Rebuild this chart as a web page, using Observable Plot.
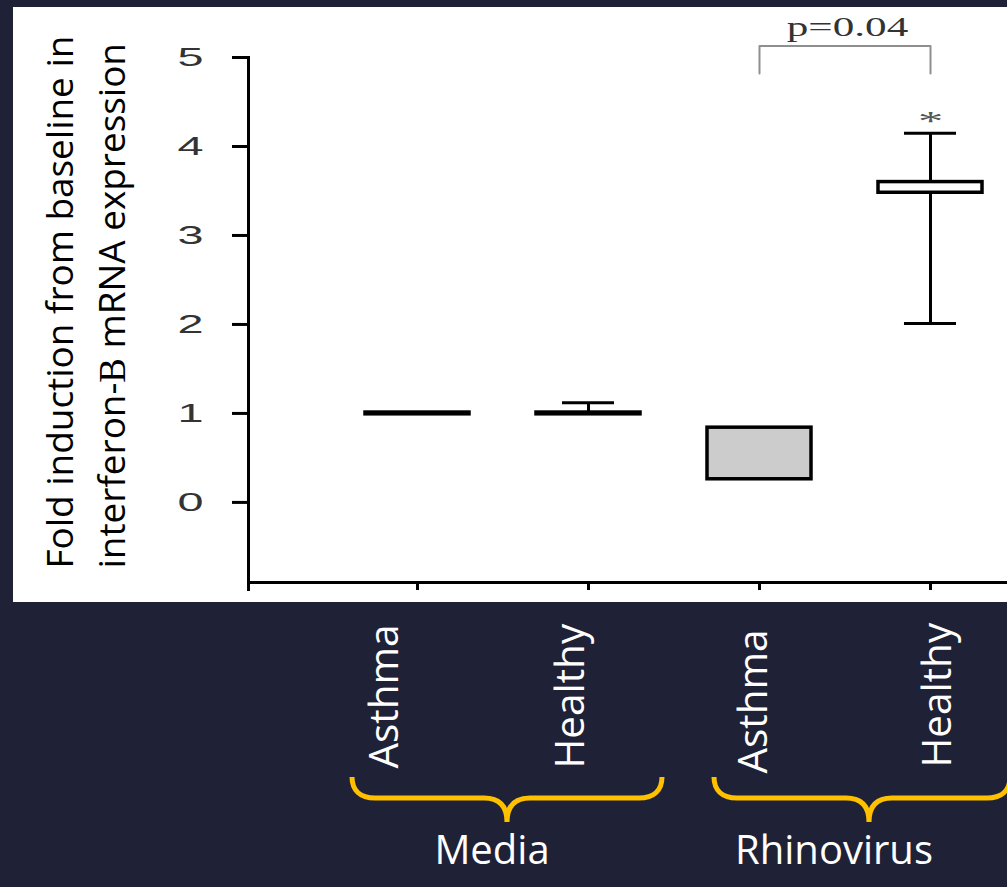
<!DOCTYPE html>
<html>
<head>
<meta charset="utf-8">
<script src="https://cdn.jsdelivr.net/npm/d3@7"></script>
<script src="https://cdn.jsdelivr.net/npm/@observablehq/plot@0.6"></script>
<style>
html, body { margin: 0; padding: 0; background: #1f2236; }
#wrap { position: relative; width: 1007px; height: 887px; overflow: hidden; background: #1f2236; }
#panel { position: absolute; left: 13px; top: 7px; width: 994px; height: 595px; background: #ffffff; }
#chart { position: absolute; left: 0; top: 0; }
</style>
</head>
<body>
<div id="wrap"><div id="panel"></div><div id="chart"></div></div>
<script>
// ---------------- data ----------------
const groups = ["Media", "Rhinovirus"];
const conditions = ["Asthma", "Healthy", "Asthma", "Healthy"];
const groupOf = ["Media", "Media", "Rhinovirus", "Rhinovirus"];
const q1 = [0.99, 0.99, 0.26, 3.48];
const q3 = [1.01, 1.01, 0.84, 3.60];
const whiskerLow = [null, null, null, 2.01];
const whiskerHigh = [null, 1.12, null, 4.15];
const significant = [false, false, false, true];
const yTicks = [0, 1, 2, 3, 4, 5];
const yDomain = [-0.9, 5];
const yTitle = ["Fold induction from baseline in", "interferon-B mRNA expression"];
const pLabel = "p=0.04";
const pBracket = [4.82, 5.13];
const sigMark = "*";

// ---------------- table ----------------
const keys = conditions.map((c, i) => `${groupOf[i]} ${c}`);
const boxes = keys.map((k, i) => ({
  key: k, condition: conditions[i], group: groupOf[i],
  q1: q1[i], q3: q3[i], lo: whiskerLow[i], hi: whiskerHigh[i], sig: significant[i]
}));
const groupData = groups.map(g => ({group: g, first: keys[groupOf.indexOf(g)]}));

// ---------------- layout ----------------
const W = 1007, H = 887;
const mLeft = 248, mTop = 57, mBottom = 305, mRight = 0;
const step = 171, padInner = 0.392, padOuter = 0.196;
const xStart = 331.5;
const xRange = [xStart, xStart + step * keys.length];
const bandW = step * (1 - padInner);
const capInset = (bandW - 52) / 2;

function fitSize(text, family, target) {
  const ctx = document.createElement("canvas").getContext("2d");
  ctx.font = `100px ${family}`;
  return 100 * target / ctx.measureText(text).width;
}
const sans = "'Open Sans'";
const serif = "'Liberation Serif', 'Times New Roman', serif";
const fsTitle = fitSize(yTitle[0], sans, 533);
const fsCat = fitSize("Asthma", sans, 144);
const fsGroup = fitSize("Rhinovirus", sans, 198);
const labelNudge = [[-20, 186], [-5, 186], [7, 191], [20, 185]];
const boxFill = k => k === "Rhinovirus Asthma" ? "#cccccc" : "#ffffff";

const marks = [
  Plot.ruleY([yDomain[0]], {stroke: "black", strokeWidth: 3}),
  Plot.frame({anchor: "left", stroke: "black", strokeWidth: 3, insetBottom: -7}),
  Plot.axisY({ticks: yTicks, tickFormat: d3.format("d"), tickSize: 16, tickPadding: 29, label: null,
    strokeWidth: 3, stroke: "black", fill: "#333", fontSize: 26, fontFamily: "'Liberation Sans', Arial"}),
  Plot.axisX({tickSize: 8, tickFormat: () => "", label: null, strokeWidth: 3, stroke: "black"}),
  // whiskers
  Plot.ruleX(boxes.filter(d => d.hi != null), {x: "key", y1: "q3", y2: "hi", stroke: "black", strokeWidth: 3}),
  Plot.ruleX(boxes.filter(d => d.lo != null), {x: "key", y1: "q1", y2: "lo", stroke: "black", strokeWidth: 3}),
  Plot.tickY(boxes.filter(d => d.hi != null), {x: "key", y: "hi", stroke: "black", strokeWidth: 3, insetLeft: capInset, insetRight: capInset}),
  Plot.tickY(boxes.filter(d => d.lo != null), {x: "key", y: "lo", stroke: "black", strokeWidth: 3, insetLeft: capInset, insetRight: capInset}),
  // boxes
  Plot.barY(boxes, {x: "key", y1: "q1", y2: "q3", fill: d => boxFill(d.key), stroke: "black", strokeWidth: 3.5}),
  // significance bracket
  Plot.line([
    {x: keys[2], y: pBracket[0]}, {x: keys[2], y: pBracket[1]},
    {x: keys[3], y: pBracket[1]}, {x: keys[3], y: pBracket[0]}
  ], {x: "x", y: "y", stroke: "#8f8f8f", strokeWidth: 2}),
  Plot.text([{x: keys[2], y: pBracket[1], t: pLabel}], {x: "x", y: "y", text: "t", dx: step / 2 + 2.5, dy: -10,
    lineAnchor: "bottom", fontFamily: serif, fontSize: 27, fill: "#333"}),
  Plot.text(boxes.filter(d => d.sig), {x: "key", y: "hi", text: () => sigMark, dy: -12,
    fontFamily: serif, fontSize: 28, fill: "#555"}),
  // y title
  Plot.text([yTitle.join("\n")], {frameAnchor: "bottom-left", rotate: -90, textAnchor: "start", lineAnchor: "bottom",
    lineHeight: 52 / fsTitle, dx: 124 - mLeft, dy: 568 - (H - mBottom), fontSize: fsTitle, fontFamily: sans, fill: "black"}),
  // category labels
  ...boxes.map((b, i) => Plot.text([b], {x: "key", text: "condition", frameAnchor: "bottom",
    dx: labelNudge[i][0], dy: labelNudge[i][1], rotate: -90, textAnchor: "start",
    fill: "white", fontSize: fsCat, fontFamily: sans})),
  // group labels
  Plot.text(groupData, {x: "first", text: "group", frameAnchor: "bottom", dx: step / 2 - 11, dy: 281,
    fill: "white", fontSize: fsGroup, fontFamily: sans})
];

const chart = Plot.plot({
  width: W, height: H,
  marginLeft: mLeft, marginTop: mTop, marginBottom: mBottom, marginRight: mRight,
  style: {background: "transparent", overflow: "visible", fontFamily: sans},
  x: {type: "band", domain: keys, range: xRange, paddingInner: padInner, paddingOuter: padOuter},
  y: {domain: yDomain},
  marks
});
document.getElementById("chart").appendChild(chart);

// ---------------- post-processing ----------------
const svg = d3.select(chart);
function stretch(sel, sx) {
  sel.each(function () {
    let t = this.getAttribute("transform");
    if (!t) {
      const x = +this.getAttribute("x") || 0, y = +this.getAttribute("y") || 0;
      this.removeAttribute("x"); this.removeAttribute("y");
      t = `translate(${x},${y})`;
    }
    this.setAttribute("transform", `${t} scale(${sx},1)`);
  });
}
const byText = s => svg.selectAll("text").filter(function () { return this.textContent === s; });
svg.selectAll('g[aria-label="y-axis tick label"] text')
  .style("font-size", "26px").style("font-family", "'Liberation Sans', Arial").style("fill", "#333");
svg.selectAll('g[aria-label="y-axis tick"]').attr("stroke-width", 3).attr("stroke", "black");
svg.selectAll('g[aria-label="x-axis tick"]').attr("stroke-width", 3).attr("stroke", "black");
stretch(svg.selectAll('g[aria-label="y-axis tick label"] text'), 1.8);
stretch(byText(pLabel), 1.6);
stretch(byText(sigMark), 1.8);

// serif "B" in the title
const marker = "interferon-";
svg.selectAll("text").each(function () {
  const nodes = Array.from(this.querySelectorAll("tspan"));
  const targets = nodes.length ? nodes : [this];
  targets.forEach(node => {
    const s = node.textContent;
    const i = s.indexOf(marker + "B");
    if (i < 0) return;
    const cut = i + marker.length;
    while (node.firstChild) node.removeChild(node.firstChild);
    const ns = "http://www.w3.org/2000/svg";
    const a = document.createElementNS(ns, "tspan"); a.textContent = s.slice(0, cut);
    const b = document.createElementNS(ns, "tspan"); b.textContent = "B";
    b.setAttribute("font-family", "Liberation Serif");
    b.style.fontFamily = "'Liberation Serif', serif";
    const c = document.createElementNS(ns, "tspan"); c.textContent = s.slice(cut + 1);
    node.appendChild(a); node.appendChild(b); node.appendChild(c);
  });
});

// curly braces under each group
const xs = chart.scale("x");
const center = k => xs.apply(k) + xs.bandwidth / 2;
const braceNudge = {Media: {l: -65, r: 74, tip: 4.5}, Rhinovirus: {l: -45, r: 80, tip: 24.5}};
const y0 = H - mBottom;
const yTop = y0 + 195, yMid = y0 + 216, yTip = y0 + 240;
groups.forEach(g => {
  const ks = keys.filter((k, i) => groupOf[i] === g);
  const c0 = center(ks[0]), c1 = center(ks[ks.length - 1]);
  const n = braceNudge[g];
  const x0 = c0 + n.l, x1 = c1 + n.r, tip = (c0 + c1) / 2 + n.tip;
  const r = 23;
  const p = d3.path();
  p.moveTo(x0, yTop);
  p.bezierCurveTo(x0, yTop + 13, x0 + 8, yMid, x0 + r, yMid);
  p.lineTo(tip - r, yMid);
  p.bezierCurveTo(tip - 8, yMid, tip, yMid + 8, tip, yTip);
  p.bezierCurveTo(tip, yMid + 8, tip + 8, yMid, tip + r, yMid);
  p.lineTo(x1 - r, yMid);
  p.bezierCurveTo(x1 - 8, yMid, x1, yTop + 13, x1, yTop);
  svg.append("path").attr("d", p.toString()).attr("fill", "none")
    .attr("stroke", "#ffc000").attr("stroke-width", 5);
});
</script>
</body>
</html>
